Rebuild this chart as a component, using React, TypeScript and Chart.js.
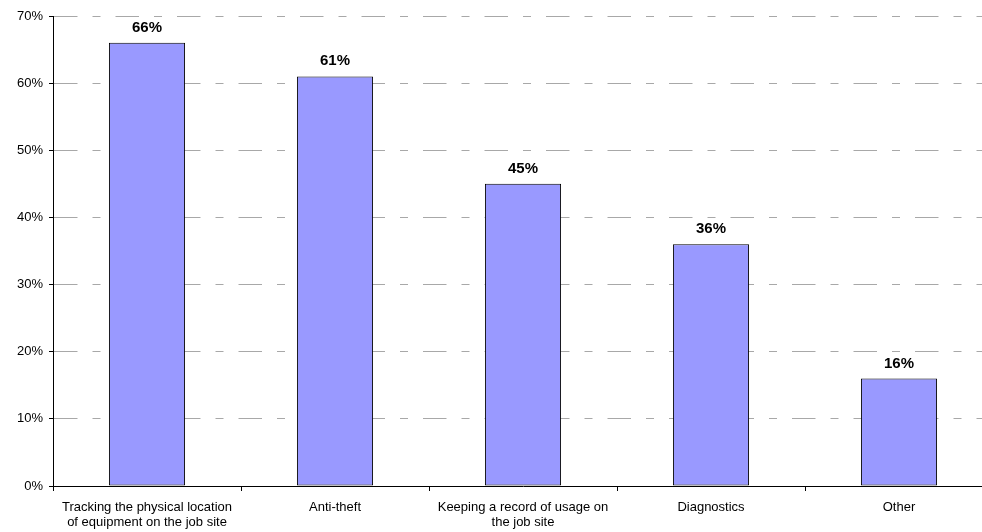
import React, { useEffect, useRef } from "react";
import { Chart, registerables } from "chart.js";

Chart.register(...registerables);

const categories: string[][] = [
  ["Tracking the physical location", "of equipment on the job site"],
  ["Anti-theft"],
  ["Keeping a record of usage on", "the job site"],
  ["Diagnostics"],
  ["Other"],
];
const values: number[] = [66, 61, 45, 36, 16];
const yMin = 0;
const yMax = 70;
const yStep = 10;

const FONT = "'Liberation Sans', Arial, Helvetica, sans-serif";

const valueLabels = {
  id: "valueLabels",
  afterDatasetsDraw(chart: any) {
    const ctx = chart.ctx;
    const meta = chart.getDatasetMeta(0);
    ctx.save();
    ctx.font = `bold 15px ${FONT}`;
    ctx.fillStyle = "#000";
    ctx.textAlign = "center";
    ctx.textBaseline = "alphabetic";
    meta.data.forEach((bar: any, i: number) => {
      ctx.fillText(values[i] + "%", bar.x, bar.y - 11);
    });
    ctx.restore();
  },
};

export default function App() {
  const ref = useRef<HTMLCanvasElement>(null);
  useEffect(() => {
    const canvas = ref.current!;
    const chart = new Chart(canvas, {
      type: "bar",
      data: {
        labels: categories,
        datasets: [
          {
            data: values,
            backgroundColor: "#9999FF",
            borderColor: "#000",
            borderWidth: 1,
            borderSkipped: false,
            barPercentage: 0.405,
            categoryPercentage: 1,
          },
        ],
      },
      options: {
        animation: false,
        responsive: false,
        devicePixelRatio: 1,
        layout: { padding: { top: 16, right: 7, bottom: 0, left: 0 } },
        plugins: { legend: { display: false }, tooltip: { enabled: false } },
        scales: {
          x: {
            grid: {
              offset: true,
              drawOnChartArea: false,
              drawTicks: true,
              tickLength: 5,
              tickColor: "#000",
            },
            border: { display: true, color: "#000", width: 1 },
            ticks: {
              color: "#000",
              font: { family: FONT, size: 13, lineHeight: 1.16 },
              padding: 9,
              maxRotation: 0,
              autoSkip: false,
            },
            afterFit: (scale: any) => {
              scale.height = 46;
            },
          },
          y: {
            min: yMin,
            max: yMax,
            grid: {
              color: (c: any) => (c.tick && c.tick.value === 0 ? "rgba(0,0,0,0)" : "#a8a8a8"),
              lineWidth: 1,
              drawTicks: true,
              tickLength: 4,
              tickColor: "#000",
            },
            border: { display: true, color: "#000", width: 1, dash: [23.5, 15, 8, 15], dashOffset: 0 },
            ticks: {
              stepSize: yStep,
              color: "#000",
              font: { family: FONT, size: 13 },
              padding: 6,
              callback: (v: any) => v + "%",
            },
            afterFit: (scale: any) => {
              scale.width = 53;
            },
          },
        },
      },
      plugins: [valueLabels],
    });
    return () => chart.destroy();
  }, []);
  return (
    <div style={{ position: "fixed", left: 0, top: 0, width: 982, height: 532, overflow: "hidden", background: "#fff" }}>
      <canvas ref={ref} width={1000} height={532} style={{ width: 1000, height: 532, display: "block" }} />
    </div>
  );
}
